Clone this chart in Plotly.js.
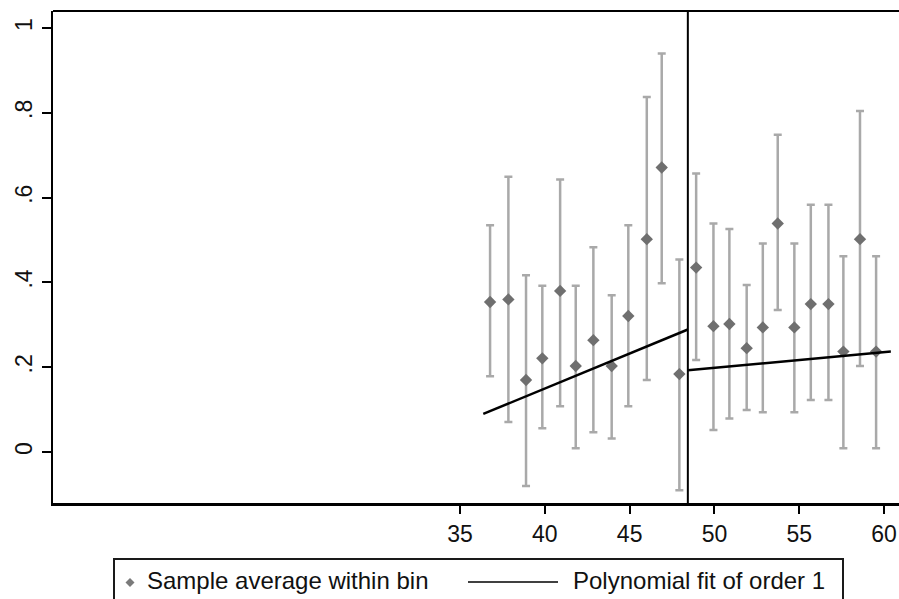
<!DOCTYPE html>
<html>
<head>
<meta charset="utf-8">
<script src="https://cdn.plot.ly/plotly-3.0.1.min.js"></script>
<style>
  html, body { margin: 0; padding: 0; background: #ffffff; }
  #chart { width: 899px; height: 599px; }
</style>
</head>
<body>
<div id="chart"></div>
<script>
// Bin midpoints (running variable) and sample averages within each bin
const binX = [36.77, 37.85, 38.89, 39.85, 40.90, 41.82, 42.86, 43.94, 44.92, 46.01, 46.89, 47.93,
              48.92, 49.94, 50.88, 51.90, 52.85, 53.73, 54.71, 55.68, 56.72, 57.60, 58.58, 59.53];
const binMean = [0.354, 0.360, 0.170, 0.221, 0.380, 0.203, 0.264, 0.203, 0.321, 0.502, 0.671, 0.184,
                 0.435, 0.297, 0.302, 0.245, 0.294, 0.539, 0.294, 0.349, 0.349, 0.237, 0.502, 0.237];
// Confidence interval bounds for each bin
const ciUpper = [0.535, 0.649, 0.417, 0.392, 0.643, 0.392, 0.483, 0.370, 0.535, 0.837, 0.940, 0.454,
                 0.657, 0.539, 0.526, 0.394, 0.492, 0.748, 0.492, 0.583, 0.583, 0.462, 0.804, 0.462];
const ciLower = [0.179, 0.071, -0.080, 0.056, 0.108, 0.009, 0.047, 0.032, 0.108, 0.170, 0.398, -0.090,
                 0.217, 0.052, 0.079, 0.099, 0.094, 0.335, 0.094, 0.123, 0.123, 0.009, 0.203, 0.009];

// Threshold and linear fits on each side of it
const cutoff = 48.43;
const fitLeftX = [36.37, cutoff];
const fitLeftY = [0.090, 0.289];
const fitRightX = [cutoff, 60.40];
const fitRightY = [0.193, 0.237];

// Axis ticks
const xTicks = [35, 40, 45, 50, 55, 60];
const yTicks = [0, 0.2, 0.4, 0.6, 0.8, 1];
const yTickText = ['0', '.2', '.4', '.6', '.8', '1'];

// Legend labels
const legendLabels = ['Sample average within bin', 'Polynomial fit of order 1'];

const errPlus = binMean.map((m, i) => ciUpper[i] - m);
const errMinus = binMean.map((m, i) => m - ciLower[i]);

const traces = [
  {
    x: binX, y: binMean, type: 'scatter', mode: 'markers',
    marker: { symbol: 'diamond', size: 9.5, color: '#6f6f6f' },
    error_y: { type: 'data', symmetric: false, array: errPlus, arrayminus: errMinus,
               color: '#a9a9a9', thickness: 2.5, width: 4 },
    showlegend: false, hoverinfo: 'x+y'
  },
  {
    x: fitLeftX, y: fitLeftY, type: 'scatter', mode: 'lines',
    line: { color: '#000000', width: 2.5 }, showlegend: false
  },
  {
    x: fitRightX, y: fitRightY, type: 'scatter', mode: 'lines',
    line: { color: '#000000', width: 2.5 }, showlegend: false
  }
];

// Pixel frame of the plot area, used to place the legend box below it
const W = 899, H = 599, mL = 53, mR = 0, mT = 11, mB = 96;
const plotW = W - mL - mR, plotH = H - mT - mB;
const px = (v) => (v - mL) / plotW;
const py = (v) => (H - mB - v) / plotH;

const txtFont = { family: 'Liberation Sans, Arial, sans-serif', size: 24, color: '#111111' };
const tickFont = { family: 'Liberation Sans, Arial, sans-serif', size: 23, color: '#111111' };

const layout = {
  width: W, height: H,
  margin: { l: mL, r: mR, t: mT, b: mB, pad: 0 },
  paper_bgcolor: '#ffffff', plot_bgcolor: '#ffffff',
  showlegend: false,
  xaxis: {
    range: [11.0, 60.88], tickvals: xTicks, ticktext: xTicks.map(String),
    showgrid: false, zeroline: false,
    showline: true, linecolor: '#000000', linewidth: 3,
    ticks: 'outside', ticklen: 8, tickwidth: 2, tickcolor: '#000000',
    tickfont: tickFont
  },
  yaxis: {
    range: [-0.120, 1.040], tickvals: yTicks, ticktext: yTickText, tickangle: -90,
    showgrid: false, zeroline: false,
    showline: true, linecolor: '#000000', linewidth: 2.5,
    ticks: 'outside', ticklen: 9, tickwidth: 2, tickcolor: '#000000',
    tickfont: tickFont
  },
  shapes: [
    // top edge of the frame
    { type: 'line', xref: 'paper', yref: 'paper', x0: 0, x1: 1, y0: 1, y1: 1,
      line: { color: '#000000', width: 2 } },
    // threshold
    { type: 'line', xref: 'x', yref: 'paper', x0: cutoff, x1: cutoff, y0: 0, y1: 1,
      line: { color: '#000000', width: 2 } },
    // legend box
    { type: 'rect', xref: 'paper', yref: 'paper', x0: px(114), x1: px(843), y0: py(559), y1: py(620),
      line: { color: '#1a1a1a', width: 2 }, fillcolor: 'rgba(0,0,0,0)' },
    // legend marker
    { type: 'path', xref: 'paper', yref: 'paper', xsizemode: 'pixel', ysizemode: 'pixel',
      xanchor: px(130), yanchor: py(582.5), path: 'M-4.5,0 L0,4.5 L4.5,0 L0,-4.5 Z',
      fillcolor: '#7a7a7a', line: { width: 0 } },
    // legend line sample
    { type: 'line', xref: 'paper', yref: 'paper', x0: px(468), x1: px(558), y0: py(582), y1: py(582),
      line: { color: '#000000', width: 1.5 } }
  ],
  annotations: [
    { xref: 'paper', yref: 'paper', x: px(145), y: py(580), xanchor: 'left', yanchor: 'middle',
      text: legendLabels[0], showarrow: false, font: txtFont },
    { xref: 'paper', yref: 'paper', x: px(571), y: py(580), xanchor: 'left', yanchor: 'middle',
      text: legendLabels[1], showarrow: false, font: txtFont }
  ]
};

Plotly.newPlot('chart', traces, layout, { displayModeBar: false, staticPlot: true });
</script>
</body>
</html>
